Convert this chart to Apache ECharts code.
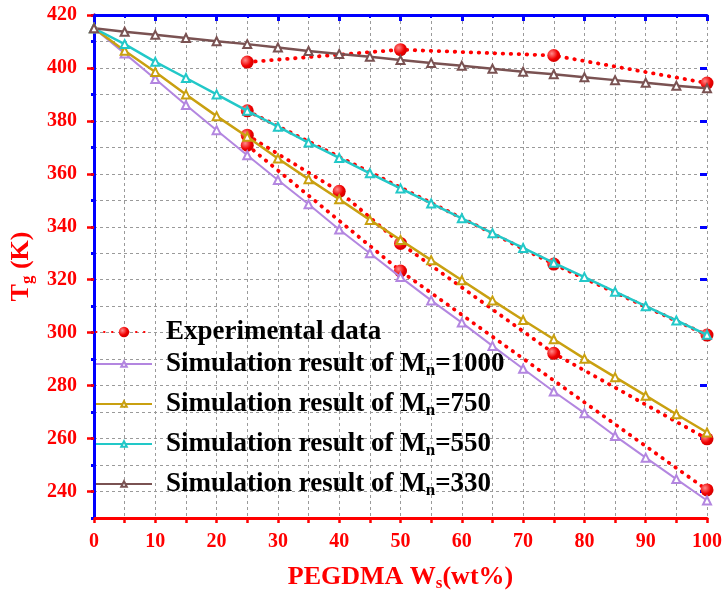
<!DOCTYPE html>
<html>
<head>
<meta charset="utf-8">
<script src="https://cdn.jsdelivr.net/npm/echarts@6/dist/echarts.min.js"></script>
<style>html,body{margin:0;padding:0;background:#fff}#c{width:722px;height:597px}</style>
</head>
<body>
<div id="c"></div>
<script>
// ---- data ----
const wsSim = [0,5,10,15,20,25,30,35,40,45,50,55,60,65,70,75,80,85,90,95,100];
const sim1000 = [415,405.5,395.8,386,376.5,367,357.7,348.5,339,330,321,312.2,303.8,295,286.4,277.8,269.6,261,252.8,244.7,236.6];
const sim750  = [415,406.5,398.5,390,381.8,374,365.8,358,350.4,342.6,335,327.4,319.8,312.2,304.8,297.5,290.2,283.2,276.2,269.2,262.3];
const sim550  = [415,409,402.3,396.2,390,383.8,377.8,371.8,366,360.2,354.5,348.8,343.2,337.6,332,326.4,321,315.5,310,304.6,299.2];
const sim330  = [415,413.7,412.5,411.3,410.1,409,407.7,406.4,405.3,404.2,403,401.9,400.8,399.7,398.6,397.6,396.5,395.4,394.4,393.3,392.3];

const exp1X = [25,50,75,100];        const exp1Y = [402.2,406.9,404.7,394.3];
const exp2X = [25,75,100];           const exp2Y = [383.8,325.9,299.1];
const exp3X = [25,40,50,75,100];     const exp3Y = [374.6,353.4,333.7,292.2,259.9];
const exp4X = [25,50,100];           const exp4Y = [370.8,323.3,240.6];

const yTickLabels = [240,260,280,300,320,340,360,380,400,420];
const xTickLabels = [0,10,20,30,40,50,60,70,80,90,100];

const expName = 'Experimental data';
const simNames = ['Simulation result of Mn=1000','Simulation result of Mn=750','Simulation result of Mn=550','Simulation result of Mn=330'];
// ---------------

const FONT = '"Liberation Serif", "Times New Roman", serif';
const RED = '#ff0000', BLUE = '#0000ff';
const simColors = ['#b386e0','#c9a010','#22c8c8','#7a5252'];

function pairs(xs, ys){ return xs.map((x,i)=>[x, ys[i]]); }

const dotColor = {type:'radial', x:0.35, y:0.35, r:0.75, colorStops:[{offset:0,color:'#ff8a8a'},{offset:0.6,color:'#f00000'},{offset:1,color:'#c80000'}]};

function expSeries(xs, ys){
  return {
    name: expName, type:'line', data: pairs(xs, ys),
    symbol:'circle', symbolSize: 13,
    itemStyle:{color: dotColor},
    lineStyle:{color: RED, width: 3.8, type:[0.5,7.5], cap:'round'},
    color: RED,
    z: 2
  };
}
function simSeries(i, ys){
  return {
    name: simNames[i], type:'line', data: pairs(wsSim, ys),
    symbol:'emptyTriangle', symbolSize: 8,
    color: simColors[i],
    itemStyle:{color: simColors[i], borderWidth: 1.4},
    lineStyle:{color: simColors[i], width: i===0 ? 2 : 2.5},
    z: 3
  };
}

const subStyle = {fontFamily: FONT, fontWeight:'bold', fontSize: 17, color:'#000', verticalAlign:'bottom', lineHeight: 12};
function legendFmt(name){
  return name.replace('Mn', 'M{s|n}');
}
const legendText = {fontFamily:FONT, fontWeight:'bold', fontSize:27, color:'#000', lineHeight:30, padding:[0,0,0,9], rich:{s: subStyle}};

const chart = echarts.init(document.getElementById('c'), null, {renderer:'canvas'});
chart.setOption({
  animation:false,
  backgroundColor:'#fff',
  grid:{left:94, right:15, top:15, bottom:79, containLabel:false, outerBoundsMode:'none'},
  legend:[
    {data:[expName], left:95, top:317, padding:0, orient:'vertical', itemWidth:56, itemHeight:13,
     textStyle: legendText, formatter: legendFmt},
    {data:simNames, left:95, top:349, padding:0, orient:'vertical', itemGap:10, itemWidth:56, itemHeight:7,
     textStyle: legendText, formatter: legendFmt}
  ],
  xAxis:[
    {type:'value', position:'bottom', min:0, max:100, interval:5,
     axisLine:{show:true, lineStyle:{color:RED, width:3}},
     axisTick:{show:true, inside:false, length:5, lineStyle:{color:RED, width:2.5}},
     axisLabel:{color:RED, fontFamily:FONT, fontWeight:'bold', fontSize:20, margin:14,
       formatter: v => xTickLabels.indexOf(v) >= 0 ? String(v) : ''},
     splitLine:{show:true, lineStyle:{color:'#9a9a9a', width:1, type:[3,3]}},
     name:'PEGDMA W{s|s}(wt%)', nameLocation:'middle', nameGap:44,
     nameTextStyle:{color:RED, fontFamily:FONT, fontWeight:'bold', fontSize:26, lineHeight:30,
       rich:{s:Object.assign({}, subStyle, {color:RED})}}
    },
    {type:'value', position:'top', min:0, max:100, interval:10,
     axisLine:{show:true, lineStyle:{color:BLUE, width:3}},
     axisTick:{show:true, inside:true, length:6, lineStyle:{color:BLUE, width:3}},
     minorTick:{show:true, splitNumber:2, length:3, lineStyle:{color:BLUE, width:2}},
     axisLabel:{show:false}, splitLine:{show:false}
    }
  ],
  yAxis:[
    {type:'value', position:'left', min:230, max:420, interval:10,
     axisLine:{show:true, lineStyle:{color:RED, width:3}},
     axisTick:{show:true, inside:false, length:3, lineStyle:{color:RED, width:2.5}},
     axisLabel:{color:RED, fontFamily:FONT, fontWeight:'bold', fontSize:20, margin:17,
       formatter: v => yTickLabels.indexOf(v) >= 0 ? String(v) : ''},
     splitLine:{show:true, lineStyle:{color:'#9a9a9a', width:1, type:[3,3]}},
     name:'T{s|g} (K)', nameLocation:'middle', nameGap:52, nameRotate:90,
     nameTextStyle:{color:RED, fontFamily:FONT, fontWeight:'bold', fontSize:26, lineHeight:30,
       rich:{s:Object.assign({}, subStyle, {color:RED})}}
    },
    {type:'value', position:'right', min:230, max:420, interval:10,
     axisLine:{show:true, lineStyle:{color:BLUE, width:3}},
     axisTick:{show:true, inside:true, length:3, lineStyle:{color:BLUE, width:3}},
     axisLabel:{show:false}, splitLine:{show:false}
    },
    {type:'value', position:'left', min:230, max:420, interval:10,
     axisLine:{show:false},
     axisTick:{show:true, inside:false, length:7, customValues: yTickLabels, lineStyle:{color:RED, width:2.5}},
     axisLabel:{show:false}, splitLine:{show:false}
    },
    {type:'value', position:'right', min:230, max:420, interval:10,
     axisLine:{show:false},
     axisTick:{show:true, inside:true, length:7, customValues: yTickLabels, lineStyle:{color:BLUE, width:3}},
     axisLabel:{show:false}, splitLine:{show:false}
    }
  ],
  series:[
    expSeries(exp1X, exp1Y),
    expSeries(exp2X, exp2Y),
    expSeries(exp3X, exp3Y),
    expSeries(exp4X, exp4Y),
    simSeries(0, sim1000),
    simSeries(1, sim750),
    simSeries(2, sim550),
    simSeries(3, sim330)
  ]
});
</script>
</body>
</html>
